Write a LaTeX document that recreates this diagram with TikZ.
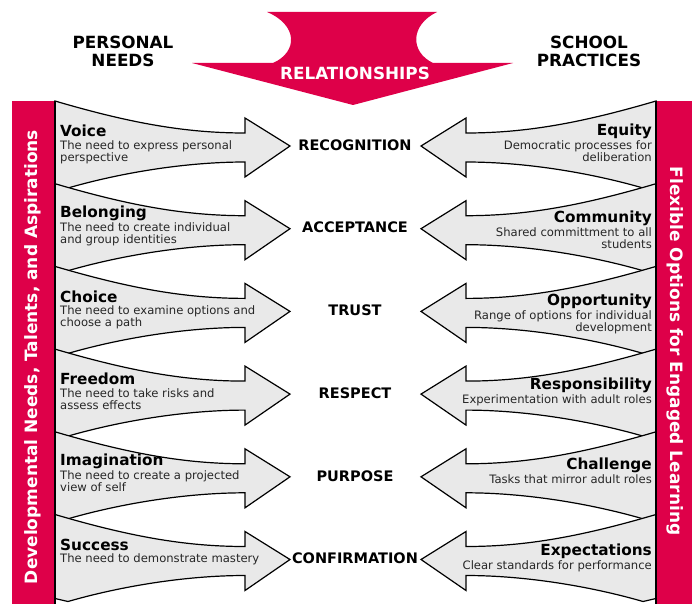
\documentclass[tikz,border=0pt]{standalone}
\usepackage{fontspec}
\setmainfont{DejaVu Sans}
\definecolor{bannerred}{RGB}{222,0,73}
\definecolor{arrowgray}{RGB}{233,233,233}
\tikzset{
  needarrow/.style={draw=black, line width=1.2pt, fill=arrowgray, line join=miter},
  headtext/.style={font=\fontsize{16.8}{18}\selectfont\bfseries, align=center, inner sep=0pt},
  goaltext/.style={font=\fontsize{14.5}{16}\selectfont\bfseries, inner sep=0pt},
  titletext/.style={font=\fontsize{15.3}{16}\selectfont\bfseries, inner sep=0pt},
  desctext/.style={font=\fontsize{11.6}{12}\selectfont, text=black!85, inner sep=0pt},
  bartext/.style={font=\fontsize{17}{19}\selectfont\bfseries, text=white, inner sep=0pt}
}
\begin{document}
\begin{tikzpicture}[x=1pt,y=-1pt]
    \useasboundingbox (0,0) rectangle (692,604);

    % Define row height and first row
    \def\rowh{82.7}
    \def\rowtop{101}

    % Banner on top
    \fill[bannerred] (267,12) -- (437,12) .. controls (410,25) and (410,52) .. (433,63)
        -- (513,63) -- (353,105) -- (192,63) -- (273,63)
        .. controls (298,52) and (298,25) .. (267,12) -- cycle;
    \node[headtext, text=white] (rel) at (355,73) {RELATIONSHIPS};
    \node[headtext] (needs) at (123,51) {PERSONAL\\NEEDS};
    \node[headtext] (practices) at (589,51) {SCHOOL\\PRACTICES};

    % Arrows, left and mirrored right
    \foreach \i in {0,...,5} {
        \pgfmathsetmacro\t{\rowtop+\i*\rowh}
        \draw[needarrow] (55,\t) .. controls (130,\t+22) and (185,\t+32) .. (245,\t+32)
            -- (245,\t+17) -- (290,\t+45) -- (245,\t+76) -- (245,\t+61)
            .. controls (185,\t+61) and (120,\t+72) .. (68,\t+87) -- (55,\t+84) -- cycle;
        \begin{scope}[xshift=711pt, xscale=-1]
            \draw[needarrow] (55,\t) .. controls (130,\t+22) and (185,\t+32) .. (245,\t+32)
                -- (245,\t+17) -- (290,\t+45) -- (245,\t+76) -- (245,\t+61)
                .. controls (185,\t+61) and (120,\t+72) .. (68,\t+87) -- (55,\t+84) -- cycle;
        \end{scope}
    }

    % Side bars
    \fill[bannerred] (12,101) rectangle (55,604);
    \fill[bannerred] (656,101) rectangle (692,604);
    \draw[line width=1.2pt] (55,101) -- (55,604);
    \draw[line width=1.2pt] (656,101) -- (656,604);
    \node[bartext, rotate=90] (devneeds) at (33,357) {Developmental Needs, Talents, and Aspirations};
    \node[bartext, rotate=-90] (options) at (675,351) {Flexible Options for Engaged Learning};

    % Labels of the rows
    \foreach \i/\need/\needdesc/\goal/\prac/\pracdesc/\dy in {
        0/Voice/{The need to express personal\\perspective}/RECOGNITION/Equity/{Democratic processes for\\deliberation}/0,
        1/Belonging/{The need to create individual\\and group identities}/ACCEPTANCE/Community/{Shared committment to all\\students}/5,
        2/Choice/{The need to examine options and\\choose a path}/TRUST/Opportunity/{Range of options for individual\\development}/5,
        3/Freedom/{The need to take risks and\\assess effects}/RESPECT/Responsibility/{Experimentation with adult roles}/6,
        4/Imagination/{The need to create a projected\\view of self}/PURPOSE/Challenge/{Tasks that mirror adult roles}/4,
        5/Success/{The need to demonstrate mastery}/CONFIRMATION/Expectations/{Clear standards for performance}/7} {
        \pgfmathsetmacro\t{\rowtop+\i*\rowh}
        \node[titletext, anchor=west] (need\i) at (60,\t+30) {\need};
        \node[desctext, anchor=north west, align=left] (needdesc\i) at (60,\t+39) {\needdesc};
        \node[goaltext] (goal\i) at (355,\t+44) {\goal};
        \node[titletext, anchor=east] (prac\i) at (652,\t+30+\dy) {\prac};
        \node[desctext, anchor=north east, align=right] (pracdesc\i) at (652,\t+39+\dy) {\pracdesc};
    }
\end{tikzpicture}
\end{document}
